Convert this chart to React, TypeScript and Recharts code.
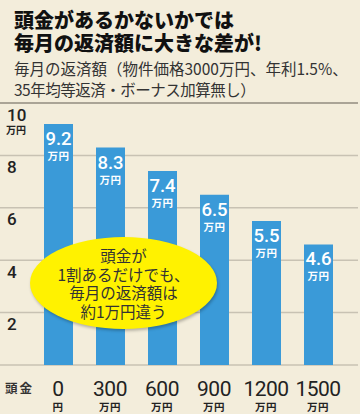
import { BarChart, Bar, XAxis, YAxis, CartesianGrid, LabelList } from "recharts";

const downPayments = ["0", "300", "600", "900", "1200", "1500"];
const downPaymentUnits = ["円", "万円", "万円", "万円", "万円", "万円"];
const monthlyPayments = [9.2, 8.3, 7.4, 6.5, 5.5, 4.6];
const yTicks = [0, 2, 4, 6, 8, 10];

const data = downPayments.map((d, i) => ({
  name: d,
  unit: downPaymentUnits[i],
  value: monthlyPayments[i],
}));

const JP = '"Noto Sans CJK JP", "Noto Sans", sans-serif';
const NUM = 'Roboto, "Noto Sans CJK JP", sans-serif';
const BG = "#f3eddb";
const BAR = "#3a9ad8";
const GRID = "#c8c2b3";

function GridLine(props: any) {
  const top = props.y1 < 110;
  return (
    <line
      key={props.key}
      x1={0}
      x2={358}
      y1={props.y1}
      y2={props.y2}
      stroke={top ? "#aaa496" : GRID}
      strokeWidth={top ? 2 : 1.5}
    />
  );
}

function YTick({ y, payload }: any) {
  if (payload.value === 0) return null;
  return (
    <g>
      <text x={7} y={y + 17.5} fontSize={17} fontFamily={NUM} fill="#222" fontWeight={500}>
        {payload.value}
      </text>
      {payload.value === 10 && (
        <text x={6} y={y + 31} fontSize={10} fontFamily={JP} fontWeight={700} fill="#222">
          万円
        </text>
      )}
    </g>
  );
}

function XTick({ x, y, payload, index }: any) {
  return (
    <g>
      <text x={x} y={y + 23} textAnchor="middle" fontSize={21} fontFamily={NUM} fill="#222" letterSpacing={-0.5}>
        {payload.value}
      </text>
      <text x={x} y={y + 38} textAnchor="middle" fontSize={10.5} fontWeight={700} fontFamily={JP} fill="#222" letterSpacing={0.5}>
        {downPaymentUnits[index]}
      </text>
    </g>
  );
}

function BarValue({ x, y, width, value }: any) {
  const cx = x + width / 2;
  return (
    <g>
      <text x={cx} y={y + 21} textAnchor="middle" fontSize={18.5} fontFamily={NUM} fill="#fff" fontWeight={500}>
        {value.toFixed(1)}
      </text>
      <text x={cx} y={y + 36} textAnchor="middle" fontSize={10.5} fontWeight={700} fontFamily={JP} fill="#fff" letterSpacing={0.5}>
        万円
      </text>
    </g>
  );
}

export default function App() {
  return (
    <div
      style={{
        position: "absolute",
        left: 0,
        top: 0,
        width: 360,
        height: 414,
        background: BG,
        overflow: "hidden",
        fontFamily: JP,
      }}
    >
      <div style={{ position: "absolute", left: 14, top: 8, fontSize: 20, fontWeight: 900, lineHeight: "23px", color: "#111" }}>
        頭金があるかないかでは
        <br />
        毎月の返済額に大きな差が!
      </div>
      <div style={{ position: "absolute", left: 14, top: 58, fontSize: 15.5, lineHeight: "21px", color: "#333", whiteSpace: "nowrap" }}>
        <div>毎月の返済額（物件価格3000万円、年利1.5%、</div>
        <div style={{ letterSpacing: -0.5 }}>35年均等返済・ボーナス加算無し）</div>
      </div>
      <BarChart
        width={360}
        height={414}
        data={data}
        margin={{ top: 103, right: 16, left: 0, bottom: 0 }}
        barSize={29}
        style={{ position: "absolute", left: 0, top: 0 }}
      >
        <CartesianGrid vertical={false} horizontal={(p: any) => <GridLine {...p} />} />
        <YAxis
          width={32}
          domain={[0, 10]}
          ticks={yTicks}
          axisLine={false}
          tickLine={false}
          tick={<YTick />}
          interval={0}
        />
        <XAxis
          dataKey="name"
          height={49}
          axisLine={false}
          tickLine={false}
          tick={<XTick />}
          interval={0}
        />
        <Bar dataKey="value" fill={BAR} isAnimationActive={false}>
          <LabelList dataKey="value" content={<BarValue />} />
        </Bar>
      </BarChart>
      <div style={{ position: "absolute", left: 5, top: 378, fontSize: 12.5, fontWeight: 700, color: "#333", letterSpacing: 2 }}>
        頭金
      </div>
      <div
        style={{
          position: "absolute",
          left: 30,
          top: 237,
          width: 187,
          height: 92,
          borderRadius: "50%",
          background: "#fff200",
          boxShadow: "1px 2px 3px rgba(0,0,0,0.25)",
          display: "flex",
          flexDirection: "column",
          alignItems: "center",
          justifyContent: "center",
          fontSize: 15.5,
          lineHeight: "18.5px",
          color: "#333",
          textAlign: "center",
        }}
      >
        <div>頭金が</div>
        <div>1割あるだけでも、</div>
        <div>毎月の返済額は</div>
        <div>約1万円違う</div>
      </div>
    </div>
  );
}
